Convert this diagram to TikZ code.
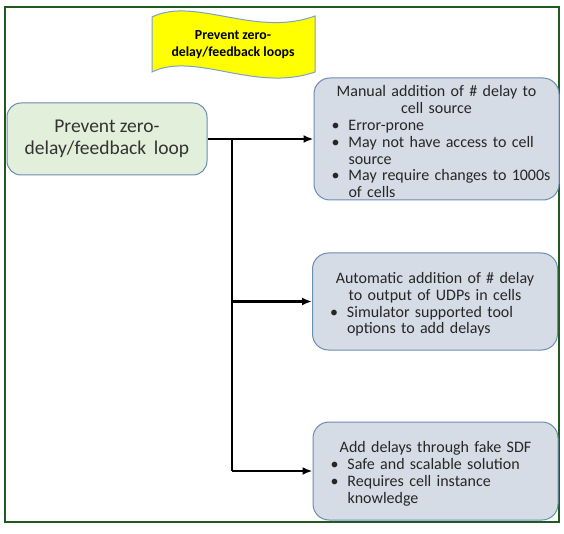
\documentclass[tikz,border=0pt]{standalone}
\usepackage{fontspec}
\setmainfont{Carlito}
\usetikzlibrary{arrows.meta}
\definecolor{framegreen}{HTML}{1F5A1F}
\definecolor{boxedge}{HTML}{6A8DB3}
\definecolor{boxfill}{HTML}{D6DCE5}
\definecolor{startfill}{HTML}{E2EFDA}
\definecolor{bannerfill}{HTML}{FFFF00}
\definecolor{banneredge}{HTML}{7F9FCC}
\newcommand{\bul}[1]{\par\hangindent=30pt\hangafter=1\noindent\makebox[30pt][l]{\hspace{13pt}•}#1\par}
\newcommand{\ttl}[1]{\par{\centering #1\par}}
\begin{document}
\begin{tikzpicture}[x=1pt,y=-1pt,
  optbox/.style={draw=boxedge, line width=1pt, fill=boxfill, rounded corners=16pt,
    minimum width=245pt, inner sep=0pt, text width=236pt, align=left,
    font=\fontsize{16}{16.8}\selectfont, text=black!85},
  startbox/.style={draw=boxedge, line width=1pt, fill=startfill, rounded corners=14pt,
    minimum width=200pt, minimum height=72pt, align=center,
    font=\fontsize{19.5}{22}\selectfont, text=black!80},
  flow/.style={line width=2.4pt, -{Latex[length=10pt,width=8pt]}},
  trunk/.style={line width=2.4pt}
]
\useasboundingbox (0,0) rectangle (564,534);
\fill[white] (0,0) rectangle (564,534);
\draw[framegreen, line width=1.6pt] (5,7) rectangle (559,522);

% title banner
\draw[banneredge, line width=1pt, fill=bannerfill]
  (152,17) .. controls (195,-4) and (255,38) .. (315,16)
  -- (315,72) .. controls (255,93) and (195,51) .. (152,72) -- cycle;
\node[align=center, font=\bfseries\fontsize{13.8}{17}\selectfont] (banner) at (233,45)
  {Prevent zero-\\delay/feedback loops};

% starting point
\node[startbox] (start) at (107,139) {Prevent zero-\\delay/feedback\ \,loop};

% options
\node[optbox, minimum height=122pt] (b1) at (436.5,139) {%
  \ttl{Manual addition of \# delay to\\cell source}%
  \bul{Error-prone}%
  \bul{May not have access to cell\newline source}%
  \bul{May require changes to 1000s\newline of cells}};

\node[optbox, minimum height=97pt] (b2) at (435,301.5) {%
  \ttl{Automatic addition of \# delay\\to output of UDPs in cells}%
  \bul{Simulator supported tool\newline options to add delays}};

\node[optbox, minimum height=98pt] (b3) at (435.5,471) {%
  \ttl{Add delays through fake SDF}%
  \bul{Safe and scalable solution}%
  \bul{Requires cell instance\newline knowledge}};

% connectors
\coordinate (split) at (232,139);
\draw[flow] (start.east) -- (b1.west);
\draw[trunk] (split) -- (split |- b3.west);
\draw[flow] (split |- b3.west) -- (b3.west);
\draw[flow] (split |- b2.west) -- (b2.west);
\end{tikzpicture}
\end{document}
